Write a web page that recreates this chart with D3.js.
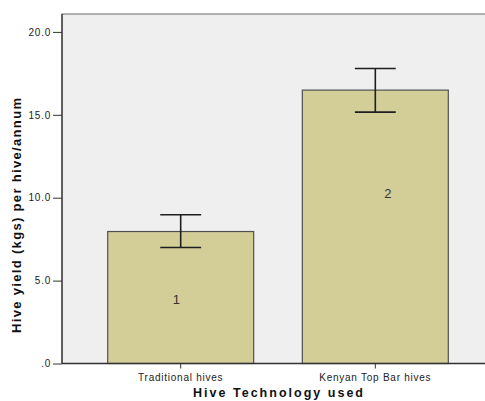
<!DOCTYPE html>
<html>
<head>
<meta charset="utf-8">
<script src="https://cdn.jsdelivr.net/npm/d3@7"></script>
<style>
  html, body { margin: 0; padding: 0; background: #fff; }
  svg { display: block; }
  text { font-family: "Liberation Sans", Arial, sans-serif; }
</style>
</head>
<body>
<svg id="chart" width="485" height="401"></svg>
<script>
// Mean hive yield by hive technology, with error bars
const categories = ["Traditional hives", "Kenyan Top Bar hives"];
const means = [7.96, 16.49];
const lower = [7.0, 15.16];
const upper = [8.97, 17.79];
const barLabels = ["1", "2"];
const labelValues = [3.6, 10.0];      // where the bar number sits, in yield units
const labelAlong = [0.47, 0.586];     // horizontal position within the bar (fraction of its width)
const yTicks = [0, 5, 10, 15, 20];

const svg = d3.select("#chart");
const frame = { left: 62, top: 14, right: 492, bottom: 363.5 };

const x = d3.scaleBand()
  .domain(categories)
  .range([107.7, 448.3])
  .paddingInner(0.25)
  .paddingOuter(0);

const y = d3.scaleLinear()
  .domain([0, 21.08])
  .range([frame.bottom, frame.top]);

// plot area
svg.append("rect")
  .attr("x", frame.left).attr("y", frame.top)
  .attr("width", frame.right - frame.left).attr("height", frame.bottom - frame.top)
  .attr("fill", "#efefef")
  .attr("stroke", "#6b6b6b").attr("stroke-width", 1);

// bars
const data = categories.map((c, i) => ({
  c, mean: means[i], lo: lower[i], hi: upper[i], label: barLabels[i],
  lv: labelValues[i], la: labelAlong[i]
}));

svg.append("g").selectAll("rect")
  .data(data).join("rect")
  .attr("x", d => x(d.c))
  .attr("y", d => y(d.mean))
  .attr("width", x.bandwidth())
  .attr("height", d => y(0) - y(d.mean))
  .attr("fill", "#d3ce98")
  .attr("stroke", "#505050").attr("stroke-width", 1.2);

// bar numbers
svg.append("g").selectAll("text")
  .data(data).join("text")
  .attr("x", d => x(d.c) + x.bandwidth() * d.la)
  .attr("y", d => y(d.lv))
  .attr("text-anchor", "middle")
  .attr("font-size", 13)
  .attr("fill", "#333")
  .text(d => d.label);

// error bars
const capHalf = x.bandwidth() * 0.14;
const eb = svg.append("g").attr("stroke", "#1e1e1e").attr("stroke-width", 1.6);
data.forEach(d => {
  const cx = x(d.c) + x.bandwidth() / 2;
  eb.append("line").attr("x1", cx).attr("x2", cx).attr("y1", y(d.hi)).attr("y2", y(d.lo));
  eb.append("line").attr("x1", cx - capHalf).attr("x2", cx + capHalf).attr("y1", y(d.hi)).attr("y2", y(d.hi));
  eb.append("line").attr("x1", cx - capHalf).attr("x2", cx + capHalf).attr("y1", y(d.lo)).attr("y2", y(d.lo));
});

// y axis
const yAxis = d3.axisLeft(y)
  .tickValues(yTicks)
  .tickSize(9)
  .tickPadding(2)
  .tickFormat(d => d === 0 ? ".0" : d3.format(".1f")(d));
const gy = svg.append("g")
  .attr("transform", `translate(${frame.left},0)`)
  .call(yAxis);
gy.select(".domain").attr("stroke", "#333").attr("stroke-width", 1.3)
  .attr("d", `M0,${frame.top}V${frame.bottom}`);
gy.selectAll(".tick line").attr("stroke", "#333");
gy.selectAll(".tick text")
  .attr("font-size", 10).attr("letter-spacing", 0.75)
  .attr("fill", "#222")
  .attr("font-family", "Liberation Sans, Arial, sans-serif");

// x axis
const xAxis = d3.axisBottom(x).tickSize(5).tickPadding(5);
const gx = svg.append("g")
  .attr("transform", `translate(0,${frame.bottom})`)
  .call(xAxis);
gx.select(".domain").attr("stroke", "#333").attr("stroke-width", 1.3)
  .attr("d", `M${frame.left},0H${frame.right}`);
gx.selectAll(".tick line").attr("stroke", "#333");
gx.selectAll(".tick text")
  .attr("font-size", 10).attr("letter-spacing", 0.75)
  .attr("fill", "#222")
  .attr("font-family", "Liberation Sans, Arial, sans-serif");

// axis titles
svg.append("text")
  .attr("x", 278).attr("y", 397)
  .attr("text-anchor", "middle")
  .attr("font-size", 12.5).attr("font-weight", "bold")
  .attr("textLength", 170).attr("lengthAdjust", "spacing")
  .attr("fill", "#111")
  .text("Hive Technology used");

svg.append("text")
  .attr("transform", "translate(20.5,215.5) rotate(-90)")
  .attr("text-anchor", "middle")
  .attr("font-size", 13).attr("font-weight", "bold")
  .attr("textLength", 235).attr("lengthAdjust", "spacing")
  .attr("fill", "#111")
  .text("Hive yield (kgs) per hive/annum");
</script>
</body>
</html>
